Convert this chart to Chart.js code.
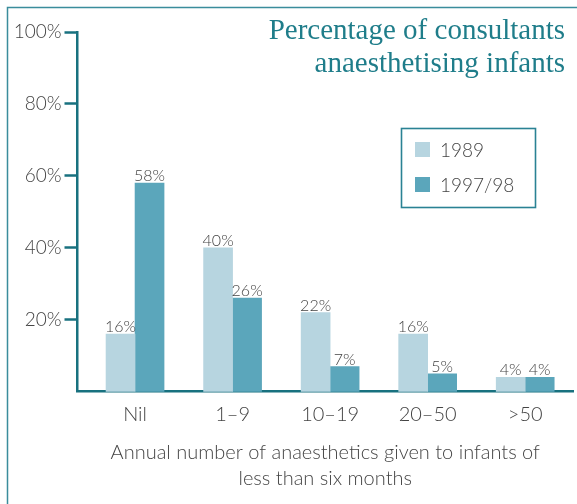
<!DOCTYPE html>
<html lang="en">
<head>
<meta charset="UTF-8">
<title>Percentage of consultants anaesthetising infants</title>
<script src="https://cdn.jsdelivr.net/npm/chart.js"></script>
<style>
  html, body { margin: 0; padding: 0; background: #fff; }
  #wrap { width: 577px; height: 504px; }
</style>
</head>
<body>
<div id="wrap"><canvas id="mycanvas" width="577" height="504"></canvas></div>
<script>
// data
const categories = ['Nil', '1–9', '10–19', '20–50', '>50'];
const values1989 = [16, 40, 22, 16, 4];
const values1997 = [58, 26, 7, 5, 4];
const seriesNames = ['1989', '1997/98'];
const yTicks = [20, 40, 60, 80, 100];
const titleLines = ['Percentage of consultants', 'anaesthetising infants'];
const xTitleLines = ['Annual number of anaesthetics given to infants of', 'less than six months'];

const teal = '#18717f';
const textGrey = '#444444';
const sansFont = 'Lato, "Open Sans", sans-serif';

// outer frame (top and left edge, rest is cut off)
const framePlugin = {
    id: 'frame',
    beforeDraw(chart) {
        const ctx = chart.ctx;
        ctx.save();
        ctx.strokeStyle = '#3a8d9c';
        ctx.lineWidth = 1.5;
        ctx.beginPath();
        ctx.moveTo(7.5, chart.height);
        ctx.lineTo(7.5, 7.5);
        ctx.lineTo(chart.width, 7.5);
        ctx.stroke();
        ctx.restore();
    }
};

// numbers above each bar
const valueLabels = {
    id: 'valueLabels',
    afterDatasetsDraw(chart) {
        const ctx = chart.ctx;
        ctx.save();
        ctx.font = '300 16px ' + sansFont;
        ctx.fillStyle = textGrey;
        ctx.textAlign = 'center';
        ctx.textBaseline = 'alphabetic';
        chart.data.datasets.forEach((ds, di) => {
            chart.getDatasetMeta(di).data.forEach((bar, i) => {
                ctx.fillText(ds.data[i].y + '%', bar.x, bar.y - 2);
            });
        });
        ctx.restore();
    }
};

// boxed legend inside the plot
const legendBox = {
    id: 'legendBox',
    afterDraw(chart) {
        const ctx = chart.ctx;
        ctx.save();
        ctx.strokeStyle = '#2a8294';
        ctx.lineWidth = 1.6;
        ctx.strokeRect(401.5, 128.5, 134, 79);
        ctx.font = '300 19px ' + sansFont;
        ctx.textBaseline = 'middle';
        chart.data.datasets.forEach((ds, i) => {
            const y = 142 + i * 35;
            ctx.fillStyle = ds.backgroundColor;
            ctx.fillRect(415, y, 15, 15);
            ctx.fillStyle = textGrey;
            ctx.fillText(ds.label, 440, y + 9);
        });
        ctx.restore();
    }
};

// serif title top right
const titleText = {
    id: 'titleText',
    afterDraw(chart) {
        const ctx = chart.ctx;
        ctx.save();
        ctx.font = '29px "Liberation Serif", serif';
        ctx.fillStyle = '#1f7d8a';
        ctx.textAlign = 'right';
        ctx.textBaseline = 'alphabetic';
        titleLines.forEach((line, i) => {
            ctx.fillText(line, 565, 39 + i * 33);
        });
        ctx.restore();
    }
};

const chartData = {
    datasets: [
        {
            label: seriesNames[0],
            backgroundColor: '#b7d5e0',
            data: values1989.map((v, i) => ({ x: i, y: v }))
        },
        {
            label: seriesNames[1],
            backgroundColor: '#5ba6bb',
            data: values1997.map((v, i) => ({ x: i, y: v }))
        }
    ]
};

const ctx = document.getElementById('mycanvas').getContext('2d');

new Chart(ctx, {
    type: 'bar',
    data: chartData,
    plugins: [framePlugin, valueLabels, legendBox, titleText],
    options: {
        responsive: false,
        animation: false,
        barThickness: 29,
        borderWidth: 0,
        layout: { padding: { top: 32, right: 4, left: 0, bottom: 0 } },
        plugins: {
            legend: { display: false },
            tooltip: { enabled: false },
            title: { display: false }
        },
        scales: {
            x: {
                type: 'linear',
                offset: false,
                min: -0.59,
                max: 4.49,
                afterBuildTicks: s => { s.ticks = categories.map((c, i) => ({ value: i })); },
                afterFit: s => { s.height = 112.3; },
                grid: { display: false, drawTicks: false },
                border: { display: true, color: teal, width: 2.5 },
                ticks: {
                    autoSkip: false,
                    padding: 11,
                    color: textGrey,
                    font: { family: sansFont, size: 20, weight: '300' },
                    callback: v => categories[v]
                },
                title: {
                    display: true,
                    text: xTitleLines,
                    color: textGrey,
                    font: { family: sansFont, size: 20, weight: '300', lineHeight: 1.3 },
                    padding: { top: 0, bottom: 12 }
                }
            },
            y: {
                min: 0,
                max: 100,
                afterBuildTicks: s => { s.ticks = yTicks.map(v => ({ value: v })); },
                afterFit: s => { s.width = 77.5; },
                grid: {
                    drawOnChartArea: false,
                    drawTicks: true,
                    tickLength: 13,
                    tickWidth: 2.5,
                    tickColor: teal
                },
                border: { display: true, color: teal, width: 2.5 },
                ticks: {
                    padding: 3,
                    color: textGrey,
                    font: { family: sansFont, size: 19, weight: '300' },
                    callback: v => v + '%'
                }
            }
        }
    }
});
</script>
</body>
</html>
